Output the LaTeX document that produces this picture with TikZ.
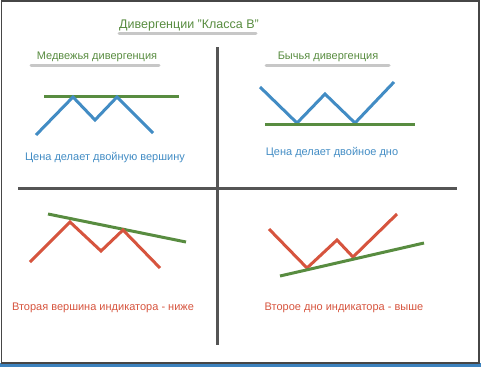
\documentclass[tikz,border=0pt]{standalone}
\usepackage{fontspec}
\setmainfont{Liberation Sans}
\definecolor{divgreen}{RGB}{88,140,64}
\definecolor{divblue}{RGB}{66,140,196}
\definecolor{divred}{RGB}{214,84,62}
\definecolor{axisgray}{RGB}{85,85,85}
\definecolor{framegray}{RGB}{70,70,70}
\definecolor{stripblue}{RGB}{60,130,190}
\tikzset{
  caption/.style={font=\fontsize{11}{13}\selectfont, inner sep=0pt},
  heading/.style={caption, text=divgreen},
  shade line/.style={line width=3pt, black!22, line cap=round},
  priceline/.style={line width=3pt, divblue},
  indline/.style={line width=3pt, divred},
  trendline/.style={line width=3pt, divgreen},
  axis/.style={line width=3pt, axisgray}
}
\begin{document}
\begin{tikzpicture}[x=1pt,y=-1pt]
  \useasboundingbox (0,0) rectangle (481,367);
  % frame
  \fill[stripblue] (0,363) rectangle (481,367);
  \draw[framegray, line width=1.5pt] (1.5,1) rectangle (479,363);
  % title and headings
  \draw[shade line] (119,33) -- (256,33);
  \node[heading, font=\fontsize{12.5}{14}\selectfont] (title) at (189,25) {Дивергенции "Класса В"};
  \draw[shade line] (31,65) -- (159,65);
  \node[heading] (bear) at (97,57) {Медвежья дивергенция};
  \draw[shade line] (266,65) -- (389,65);
  \node[heading] (bull) at (328,57) {Бычья дивергенция};
  % axes
  \draw[axis] (217,47) -- (217,345);
  \draw[axis] (18,188) -- (457,188);
  % price: double top
  \draw[trendline] (44,96) -- (179,96);
  \draw[priceline] (36,135) -- (73,97) -- (95,120) -- (117,97) -- (153,133);
  \node[caption, text=divblue] (toptext) at (105,158) {Цена делает двойную вершину};
  % price: double bottom
  \draw[priceline] (260,87) -- (297,123) -- (325,94) -- (355,123) -- (394,82);
  \draw[trendline] (265,124) -- (415,124);
  \node[caption, text=divblue] (bottomtext) at (332,153) {Цена делает двойное дно};
  % indicator: lower top
  \draw[trendline] (48,214) -- (186,242);
  \draw[indline] (30,262) -- (70,222) -- (101,251) -- (123,230) -- (160,268);
  \node[caption, text=divred] (lowertext) at (103,308) {Вторая вершина индикатора - ниже};
  % indicator: higher bottom
  \draw[indline] (269,229) -- (307,268) -- (337,240) -- (353,257) -- (397,214);
  \draw[trendline] (280,276) -- (424,243);
  \node[caption, text=divred] (highertext) at (344,308) {Второе дно индикатора - выше};
\end{tikzpicture}
\end{document}
